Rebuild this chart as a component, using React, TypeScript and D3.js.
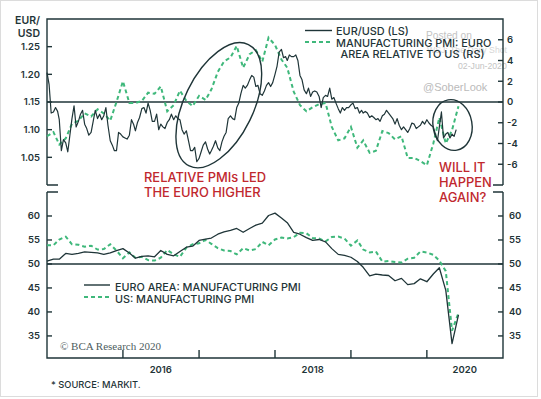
import React from 'react';
import * as d3 from 'd3';

// monthly PMI readings, Dec 2014 .. May 2020 (plotted at month end)
const euroPmi = [
  50.6,
  51.0, 51.0, 52.2, 52.0, 52.2, 52.5, 52.4, 52.3, 52.0, 52.3, 52.8, 53.2,
  52.3, 51.2, 51.6, 51.7, 51.5, 52.8, 52.0, 51.7, 52.6, 53.5, 53.7, 54.9,
  55.2, 55.4, 56.2, 56.7, 57.0, 57.4, 56.6, 57.4, 58.1, 58.5, 60.1, 60.6,
  59.6, 58.6, 56.6, 56.2, 55.5, 54.9, 55.1, 54.6, 53.2, 52.0, 51.8, 51.4,
  50.5, 49.3, 47.5, 47.9, 47.7, 47.6, 46.5, 47.0, 45.7, 45.9, 46.9, 46.3,
  47.9, 49.2, 44.5, 33.4, 39.4,
];
const usPmi = [
  53.9,
  53.9, 55.1, 55.7, 54.1, 54.0, 53.6, 53.8, 53.0, 53.1, 54.1, 52.8, 51.2,
  52.4, 51.3, 51.5, 50.8, 50.7, 51.3, 52.9, 52.0, 51.5, 53.4, 54.1, 54.3,
  55.0, 54.2, 53.3, 52.8, 52.7, 52.0, 53.3, 52.8, 53.1, 54.6, 53.9, 55.1,
  55.5, 55.3, 55.6, 56.5, 56.4, 55.4, 55.3, 54.7, 55.6, 55.7, 55.3, 53.8,
  54.9, 53.0, 52.4, 52.6, 50.5, 50.6, 50.4, 50.3, 51.1, 51.3, 52.6, 52.4,
  51.9, 50.7, 48.5, 36.1, 39.8,
];
const relativePmi = [
  -3.3,
  -2.9, -4.1, -3.5, -2.1, -1.8, -1.1, -1.4, -0.7, -1.1, -1.8, 0.0, 2.0,
  -0.1, -0.1, 0.1, 0.9, 0.8, 1.5, -0.9, -0.3, 1.1, 0.1, -0.4, 0.6,
  0.2, 1.2, 2.9, 3.9, 4.3, 5.4, 3.3, 4.6, 5.0, 3.9, 6.2, 5.5,
  4.1, 3.3, 1.0, -0.3, -0.9, -0.5, -0.2, -0.1, -2.4, -3.7, -3.5, -2.4,
  -4.4, -3.7, -4.9, -4.7, -2.8, -3.0, -3.6, -3.3, -5.4, -5.4, -5.7, -6.1,
  -4.0, -1.5, -4.0, -2.7, -0.4,
];

// EUR/USD, three readings a month (1st, 11th, 21st), Jan 2015 .. May 2020
const eurUsdDays = [1, 11, 21];
const eurUsd = [
  1.203, 1.182, 1.130, 1.132, 1.140, 1.133, 1.118, 1.062, 1.082, 1.076, 1.060, 1.090,
  1.120, 1.143, 1.105, 1.115, 1.128, 1.135, 1.110, 1.102, 1.090, 1.095, 1.115, 1.135,
  1.120, 1.128, 1.118, 1.125, 1.140, 1.108, 1.080, 1.072, 1.062, 1.062, 1.095, 1.092,
  1.087, 1.085, 1.083, 1.090, 1.118, 1.110, 1.098, 1.113, 1.122, 1.138, 1.140, 1.130,
  1.148, 1.135, 1.115, 1.115, 1.128, 1.100, 1.110, 1.105, 1.102, 1.113, 1.118, 1.128,
  1.118, 1.125, 1.120, 1.118, 1.100, 1.092, 1.098, 1.080, 1.062, 1.062, 1.068, 1.042,
  1.048, 1.060, 1.072, 1.078, 1.065, 1.056, 1.062, 1.070, 1.080, 1.067, 1.062, 1.078,
  1.088, 1.095, 1.120, 1.125, 1.120, 1.118, 1.140, 1.148, 1.165, 1.180, 1.175, 1.180,
  1.190, 1.198, 1.195, 1.178, 1.180, 1.165, 1.162, 1.170, 1.180, 1.185, 1.178, 1.185,
  1.200, 1.215, 1.240, 1.245, 1.230, 1.232, 1.225, 1.235, 1.232, 1.232, 1.235, 1.225,
  1.198, 1.190, 1.172, 1.165, 1.175, 1.160, 1.168, 1.170, 1.168, 1.160, 1.140, 1.158,
  1.162, 1.160, 1.175, 1.155, 1.158, 1.148, 1.138, 1.130, 1.140, 1.135, 1.140, 1.140,
  1.145, 1.148, 1.138, 1.140, 1.130, 1.135, 1.130, 1.133, 1.130, 1.122, 1.125, 1.122,
  1.118, 1.120, 1.115, 1.125, 1.128, 1.135, 1.130, 1.125, 1.120, 1.110, 1.120, 1.108,
  1.100, 1.105, 1.100, 1.095, 1.102, 1.112, 1.110, 1.102, 1.105, 1.108, 1.115, 1.110,
  1.118, 1.112, 1.108, 1.105, 1.092, 1.080, 1.105, 1.132, 1.085, 1.092, 1.095, 1.085,
  1.092, 1.088, 1.100,
];

const fxTicks = [1.05, 1.1, 1.15, 1.2, 1.25];
const relTicks = [-6, -4, -2, 0, 2, 4, 6];
const pmiTicks = [35, 40, 45, 50, 55, 60];
const yearTicks = [2016, 2017, 2018, 2019, 2020];
const yearLabels = [2016, 2018, 2020];

const W = 541;
const H = 399;
const L = 47;
const R = 503;
const topY = [19, 185];
const botY = [192, 358];

const DARK = '#1f3538';
const GREEN = '#3fb87b';
const RED = '#c0282e';
const sans = 'Inter, "DejaVu Sans", sans-serif';

type Pt = { date: Date; value: number };

const pmiDate = (i: number) => new Date(2015, i, 1);

export default function App() {
  const x = d3.scaleTime().domain([new Date(2015, 0, 1), new Date(2021, 0, 1)]).range([L, R]);
  const yFx = d3.scaleLinear().domain([1.0, 1.3]).range([topY[1], topY[0]]);
  const yRel = d3.scaleLinear().domain([-8, 8]).range([topY[1], topY[0]]);
  const yPmi = d3.scaleLinear().domain([30.4, 65]).range([botY[1], botY[0]]);

  const fxData: Pt[] = eurUsd.map((v, i) => ({
    date: new Date(2015, Math.floor(i / 3), eurUsdDays[i % 3]),
    value: v,
  }));
  const toPts = (arr: number[]): Pt[] => arr.map((v, i) => ({ date: pmiDate(i), value: v }));

  const lineFx = d3.line<Pt>().x(d => x(d.date)).y(d => yFx(d.value));
  const lineRel = d3.line<Pt>().x(d => x(d.date)).y(d => yRel(d.value));
  const linePmi = d3.line<Pt>().x(d => x(d.date)).y(d => yPmi(d.value));

  const tickLabel = { fontFamily: sans, fontSize: 9.5, fontWeight: 600, fill: DARK } as const;

  return (
    <svg width={W} height={H} style={{ position: 'absolute', left: 0, top: 0, background: '#fff' }}>
      <rect x={0.5} y={0.5} width={537} height={396} fill="#fff" stroke="#dcdcdc" />

      {/* watermark (sits behind the legend, as in the source) */}
      <g fontFamily='"Liberation Sans", Arial, sans-serif'>
        <text x={426} y={38.5} fontSize={10.2} fill="#c4c4c4">Posted on</text>
        <text x={427} y={53} fontSize={8.7} fill="#d6d6d6">WSJ: The Daily Shot</text>
        <text x={458} y={69} fontSize={8.7} fill="#c4c4c4">02-Jun-2020</text>
        <text x={423} y={91} fontSize={11} fill="#bbbbbb">@SoberLook</text>
      </g>

      {/* ---------- top panel ---------- */}
      <g stroke={DARK} strokeWidth={1.4} fill="none">
        <path d={`M${L},${topY[1]}V${topY[0]}H${R}V${topY[1]}`} />
        <path d={`M${L},${topY[1]}h11M${R},${topY[1]}h-10`} />
        <line x1={L} x2={R} y1={yFx(1.15)} y2={yFx(1.15)} />
        {fxTicks.map(t => (
          <line key={t} x1={L} x2={L + 5} y1={yFx(t)} y2={yFx(t)} />
        ))}
        {relTicks.map(t => (
          <line key={t} x1={R} x2={R - 5} y1={yRel(t)} y2={yRel(t)} />
        ))}
      </g>
      {fxTicks.map(t => (
        <text key={t} x={40} y={yFx(t)} dy="0.35em" textAnchor="end" {...tickLabel}>
          {d3.format('.2f')(t)}
        </text>
      ))}
      {relTicks.map(t => (
        <text key={t} x={507} y={yRel(t)} dy="0.35em" textAnchor="start" {...tickLabel}>
          {t < 0 ? '-' + Math.abs(t) : t}
        </text>
      ))}
      <text x={40} y={24} textAnchor="end" fontFamily={sans} fontSize={10.5} fontWeight={600} fill={DARK}>EUR/</text>
      <text x={40} y={37} textAnchor="end" fontFamily={sans} fontSize={10.5} fontWeight={600} fill={DARK}>USD</text>

      <path d={lineRel(toPts(relativePmi)) || ''} fill="none" stroke={GREEN} strokeWidth={2} strokeDasharray="4,3" />
      <path d={lineFx(fxData) || ''} fill="none" stroke={DARK} strokeWidth={1.2} strokeLinejoin="round" />

      {/* legend, top */}
      <line x1={305} x2={332} y1={30.5} y2={30.5} stroke={DARK} strokeWidth={1.4} />
      <line x1={305} x2={332} y1={42} y2={42} stroke={GREEN} strokeWidth={2} strokeDasharray="4,3" />
      <g fontFamily={sans} fontSize={10.9} fontWeight={500} fill={DARK}>
        <text x={336} y={34.5}>EUR/USD (LS)</text>
        <text x={336} y={46.5}>MANUFACTURING PMI: EURO</text>
        <text x={412.5} y={57.7} textAnchor="middle">AREA RELATIVE TO US (RS)</text>
      </g>

      {/* highlight ellipses */}
      <ellipse cx={0} cy={0} rx={67.5} ry={34.5} transform="translate(218.8,105.2) rotate(-64)" fill="none" stroke={DARK} strokeWidth={1.4} />
      <ellipse cx={0} cy={0} rx={19.5} ry={25.5} transform="translate(452.5,125) rotate(-10)" fill="none" stroke={DARK} strokeWidth={1.4} />

      <g fontFamily={sans} fontSize={12.9} fontWeight={500} fill={RED}>
        <text x={144} y={181.5}>RELATIVE PMIs LED</text>
        <text x={144} y={196.5}>THE EURO HIGHER</text>
        <text x={439} y={171.5}>WILL IT</text>
        <text x={439} y={186.7}>HAPPEN</text>
        <text x={439} y={201.5}>AGAIN?</text>
      </g>

      {/* ---------- bottom panel ---------- */}
      <g stroke={DARK} strokeWidth={1.4} fill="none">
        <path d={`M${L},${botY[0]}V${botY[1]}H${R}V${botY[0]}`} />
        <path d={`M${L},${botY[0]}h11M${R},${botY[0]}h-10`} />
        <line x1={L} x2={R} y1={yPmi(50)} y2={yPmi(50)} />
        {pmiTicks.map(t => (
          <g key={t}>
            <line x1={L} x2={L + 5} y1={yPmi(t)} y2={yPmi(t)} />
            <line x1={R} x2={R - 5} y1={yPmi(t)} y2={yPmi(t)} />
          </g>
        ))}
        {yearTicks.map(yr => (
          <line key={yr} x1={x(new Date(yr, 0, 1))} x2={x(new Date(yr, 0, 1))} y1={botY[1]} y2={botY[1] - 8} />
        ))}
      </g>
      {pmiTicks.map(t => (
        <g key={t}>
          <text x={40} y={yPmi(t)} dy="0.35em" textAnchor="end" {...tickLabel}>{t}</text>
          <text x={509} y={yPmi(t)} dy="0.35em" textAnchor="start" {...tickLabel}>{t}</text>
        </g>
      ))}
      {yearLabels.map(yr => (
        <text key={yr} x={x(new Date(yr, 6, 1))} y={372.7} textAnchor="middle" {...tickLabel}>{yr}</text>
      ))}

      <path d={linePmi(toPts(usPmi)) || ''} fill="none" stroke={GREEN} strokeWidth={2} strokeDasharray="4,3" />
      <path d={linePmi(toPts(euroPmi)) || ''} fill="none" stroke={DARK} strokeWidth={1.3} strokeLinejoin="round" />

      {/* legend, bottom */}
      <line x1={84} x2={110} y1={285} y2={285} stroke={DARK} strokeWidth={1.4} />
      <line x1={84} x2={110} y1={297} y2={297} stroke={GREEN} strokeWidth={2} strokeDasharray="4,3" />
      <g fontFamily={sans} fontSize={10.8} fontWeight={500} fill={DARK}>
        <text x={115} y={290.5}>EURO AREA: MANUFACTURING PMI</text>
        <text x={115} y={302.5}>US: MANUFACTURING PMI</text>
      </g>

      <text x={60} y={349.5} fontFamily='"Liberation Serif", "Times New Roman", serif' fontSize={11} fill="#4d5d60">
        © BCA Research 2020
      </text>
      <text x={51} y={388} fontFamily={sans} fontSize={9.3} fontWeight={500} fill={DARK}>* SOURCE: MARKIT.</text>
    </svg>
  );
}
